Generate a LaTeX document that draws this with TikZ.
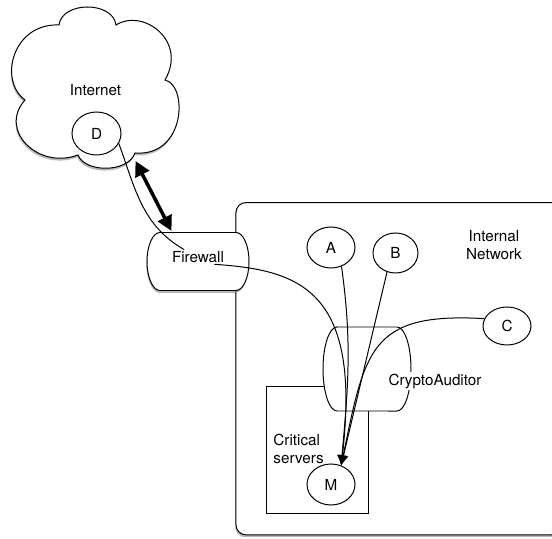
\documentclass[tikz,border=0pt]{standalone}
\usepackage{fontspec}
\setmainfont{TeX Gyre Heros}
\usepackage{tikz}
\usetikzlibrary{shapes,shadows,arrows.meta}
\tikzset{
  schatten/.style={drop shadow={shadow xshift=-0.6pt,shadow yshift=-2pt,fill=black!50,opacity=.55}},
  rechner/.style={ellipse,draw,fill=white,inner sep=0pt},
  spitze/.style={-{Latex[length=3mm,width=3mm]}}
}
\begin{document}
\begin{tikzpicture}[x=0.03cm,y=0.03cm,line width=0.85pt,font=\fontsize{13}{15}\selectfont]
  \useasboundingbox (0,0) rectangle (552,-539);
  \clip (0,0) rectangle (552,-539);
  \node[draw,rounded corners=0.3cm,fill=white,schatten,minimum width=9.75cm,minimum height=9.97cm]
  (netz) at (398.5,-368.7) {};
  \node[align=center] (netztext) at (494,-245) {Internal\\Network};
  \node[draw,fill=white,minimum width=3.06cm,minimum height=3.8cm] (kritisch) at (317.5,-449.8) {};
  \node[align=left,anchor=west,inner sep=0pt] (kritischtext) at (273,-449) {Critical\\servers};
  \draw[fill=white] (337,-327) -- (397,-327)
  arc[start angle=90,end angle=-90,x radius=0.42cm,y radius=1.26cm] -- (337,-411)
  arc[start angle=270,end angle=90,x radius=0.42cm,y radius=1.26cm] -- cycle;
  \node[fill=white,inner sep=1pt] (crypto) at (435,-381) {CryptoAuditor};
  \draw[fill=white,schatten] (160,-232.5) -- (236,-232.5)
  arc[start angle=90,end angle=-90,x radius=0.39cm,y radius=0.87cm] -- (160,-290.5)
  arc[start angle=270,end angle=90,x radius=0.39cm,y radius=0.87cm] -- cycle;
  \node[inner sep=1pt] (fw) at (198,-257) {Firewall};
  \draw[fill=white,schatten] (59,-25) .. controls (62,-1) and (113,-1) .. (116,-25)
  .. controls (142,-8) and (188,-40) .. (165,-80)
  .. controls (188,-85) and (186,-157) .. (135,-153)
  .. controls (128,-173) and (85,-173) .. (78,-155)
  .. controls (38,-170) and (-2,-130) .. (25,-100)
  .. controls (-2,-80) and (13,-23) .. (59,-25) -- cycle;
  \node (internet) at (95.5,-90) {Internet};
  \node[rechner,minimum width=1.47cm,minimum height=1.29cm] (d) at (96.5,-133.5) {D};
  \node[rechner,minimum width=1.44cm,minimum height=1.23cm] (a) at (331,-247.5) {A};
  \node[rechner,minimum width=1.35cm,minimum height=1.2cm] (b) at (395.5,-253) {B};
  \node[rechner,minimum width=1.44cm,minimum height=1.14cm] (c) at (507,-326) {C};
  \node[rechner,minimum width=1.44cm,minimum height=1.23cm] (m) at (331,-484.5) {M};
  \coordinate (w1) at (135.5,-161);
  \coordinate (w2) at (171.5,-231);
  \draw[line width=3pt,{Triangle[length=4.5mm,width=4.5mm]}-{Triangle[length=4.5mm,width=4.5mm]}] (w1) -- (w2);
  \draw (d.-24) to[out=-70,in=150] (fw.152);
  \draw[spitze] (fw.-24) .. controls (300,-270) and (362,-290) .. (m.62);
  \draw[spitze] (a.-61) to[out=-82,in=85] (m.62);
  \draw[spitze] (b.-114) -- (m.62);
  \draw[spitze] (c.162) .. controls (370,-312) and (365,-350) .. (m.62);
\end{tikzpicture}
\end{document}
